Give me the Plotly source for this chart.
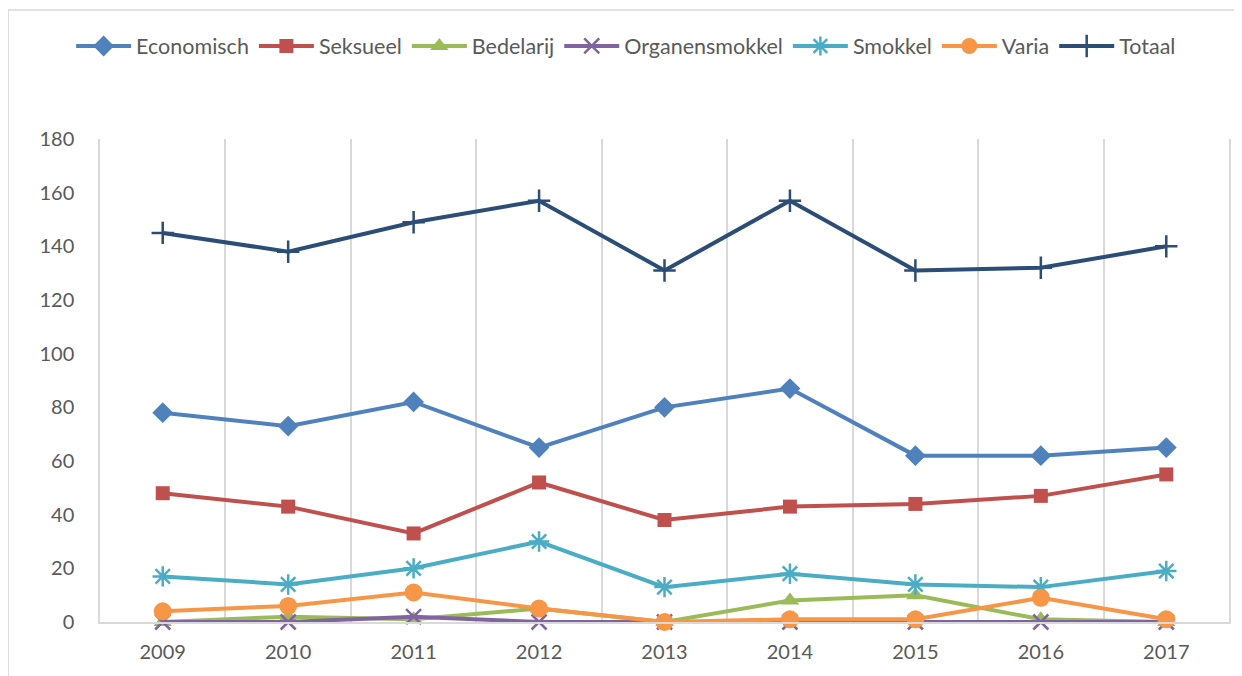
import plotly.graph_objects as go

years = ["2009", "2010", "2011", "2012", "2013", "2014", "2015", "2016", "2017"]
economisch = [78, 73, 82, 65, 80, 87, 62, 62, 65]
seksueel = [48, 43, 33, 52, 38, 43, 44, 47, 55]
bedelarij = [0, 2, 1, 5, 0, 8, 10, 1, 0]
organensmokkel = [0, 0, 2, 0, 0, 0, 0, 0, 0]
smokkel = [17, 14, 20, 30, 13, 18, 14, 13, 19]
varia = [4, 6, 11, 5, 0, 1, 1, 9, 1]
totaal = [145, 138, 149, 157, 131, 157, 131, 132, 140]

series = [
    ("Economisch", economisch, "#4F81BD", "diamond", 16, 0),
    ("Seksueel", seksueel, "#C0504D", "square", 14, 0),
    ("Bedelarij", bedelarij, "#9BBB59", "triangle-up", 16, 0),
    ("Organensmokkel", organensmokkel, "#8064A2", "x-thin-open", 15, 2.5),
    ("Smokkel", smokkel, "#4BACC6", "asterisk-open", 17, 2.5),
    ("Varia", varia, "#F79646", "circle", 18, 0),
    ("Totaal", totaal, "#2C4D75", "cross-thin-open", 16, 2.5),
]

fig = go.Figure()
for name, vals, color, sym, size, lw in series:
    marker = dict(symbol=sym, size=size, color=color)
    if lw:
        marker["line"] = dict(color=color, width=lw)
    fig.add_trace(go.Scatter(
        x=years, y=vals, name=name, mode="lines+markers",
        line=dict(color=color, width=4), marker=marker, cliponaxis=False,
    ))

font_family = "Lato, 'Open Sans', sans-serif"
# page body has 8px margin -> figure 1234x668 placed at (8,8)
fig.update_layout(
    width=1234, height=668,
    margin=dict(l=92, r=11, t=131, b=54),
    paper_bgcolor="white", plot_bgcolor="white",
    font=dict(family=font_family, color="#595959", size=20),
    showlegend=True,
    legend=dict(orientation="h", x=0.466, xanchor="center", y=1 + (131 - 38) / 483, yanchor="middle",
                font=dict(size=21.5, color="#595959"), itemwidth=55, tracegroupgap=0,
                traceorder="normal"),
    xaxis=dict(type="category", range=[-0.5, 8.5], tickson="boundaries",
               showgrid=True, gridcolor="#d9d9d9", gridwidth=1.5,
               showline=True, linecolor="#d9d9d9", linewidth=1.5,
               ticks="", tickfont=dict(size=20, color="#595959"),
               ticklabelstandoff=11, zeroline=False),
    yaxis=dict(range=[0, 180], tickvals=list(range(0, 181, 20)),
               showgrid=False, showline=True, mirror=True, linecolor="#d9d9d9", linewidth=1.5,
               zeroline=False, ticks="",
               tickfont=dict(size=20, color="#595959"), ticklabelstandoff=20),
    shapes=[dict(type="rect", xref="paper", yref="paper",
                 x0=(8 - 100) / 1131, x1=(1260 - 100) / 1131,
                 y0=(622 - 700) / 483, y1=1 + (139 - 10) / 483,
                 line=dict(color="#d9d9d9", width=1.5), layer="below")],
)

fig.write_html("out.html")
